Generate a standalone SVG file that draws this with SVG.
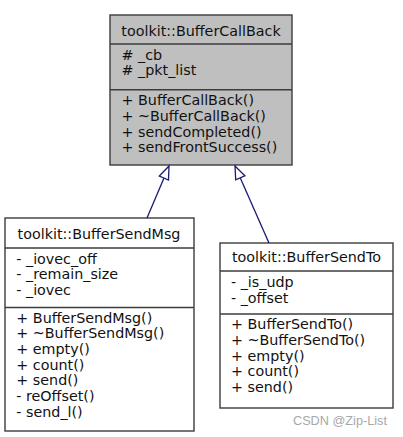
<svg xmlns="http://www.w3.org/2000/svg" width="403" height="437" viewBox="0 0 403 437">
<style>
.box{fill:#ffffff;stroke:#3c3c3c;stroke-width:1.4}
.base{fill:#bfbfbf}
.sep{stroke:#3c3c3c;stroke-width:1.4}
text{font-family:"DejaVu Sans",sans-serif;font-size:14.3px;fill:#111}
.t{text-anchor:middle}
.edge{stroke:#191970;stroke-width:1.3;fill:none}
.head{fill:#ffffff;stroke:#191970;stroke-width:1.3}
.wm{font-family:"Liberation Sans",Arial,sans-serif;font-size:12.7px;fill:#a8a8a8}
</style>
<rect width="403" height="437" fill="#ffffff"/>
<g id="BufferCallBack">
<rect class="box base" x="110" y="15" width="182" height="150"/>
<line class="sep" x1="110" y1="44" x2="292" y2="44"/>
<line class="sep" x1="110" y1="89.7" x2="292" y2="89.7"/>
<text class="t" x="201" y="35.5">toolkit::BufferCallBack</text>
<text x="121.5" y="59.5"># _cb</text>
<text x="121.5" y="75.2"># _pkt_list</text>
<text x="121.5" y="105.3">+ BufferCallBack()</text>
<text x="121.5" y="121">+ ~BufferCallBack()</text>
<text x="121.5" y="136.7">+ sendCompleted()</text>
<text x="121.5" y="152.4">+ sendFrontSuccess()</text>
</g>
<g id="BufferSendMsg">
<rect class="box" x="5" y="218" width="189" height="213"/>
<line class="sep" x1="5" y1="248" x2="194" y2="248"/>
<line class="sep" x1="5" y1="307.5" x2="194" y2="307.5"/>
<text class="t" x="99" y="238.5">toolkit::BufferSendMsg</text>
<text x="16.3" y="263.5">- _iovec_off</text>
<text x="16.3" y="279.2">- _remain_size</text>
<text x="16.3" y="294.9">- _iovec</text>
<text x="16.3" y="322.5">+ BufferSendMsg()</text>
<text x="16.3" y="338.2">+ ~BufferSendMsg()</text>
<text x="16.3" y="353.9">+ empty()</text>
<text x="16.3" y="369.6">+ count()</text>
<text x="16.3" y="385.3">+ send()</text>
<text x="16.3" y="401">- reOffset()</text>
<text x="16.3" y="416.7">- send_l()</text>
</g>
<g id="BufferSendTo">
<rect class="box" x="220" y="243" width="173" height="165"/>
<line class="sep" x1="220" y1="271" x2="393" y2="271"/>
<line class="sep" x1="220" y1="314" x2="393" y2="314"/>
<text class="t" x="306.5" y="262">toolkit::BufferSendTo</text>
<text x="231" y="287.3">- _is_udp</text>
<text x="231" y="303">- _offset</text>
<text x="231" y="329.3">+ BufferSendTo()</text>
<text x="231" y="345">+ ~BufferSendTo()</text>
<text x="231" y="360.7">+ empty()</text>
<text x="231" y="376.4">+ count()</text>
<text x="231" y="392.1">+ send()</text>
</g>
<g id="connectors">
<line class="edge" x1="147" y1="218" x2="164" y2="178"/>
<polygon class="head" points="169,166 168.5,180 159.3,176"/>
<line class="edge" x1="269" y1="243" x2="240.3" y2="178"/>
<polygon class="head" points="235,166 244.9,175.9 235.7,179.9"/>
</g>
<text class="wm" x="293" y="424.5">CSDN @Zip-List</text>
</svg>
